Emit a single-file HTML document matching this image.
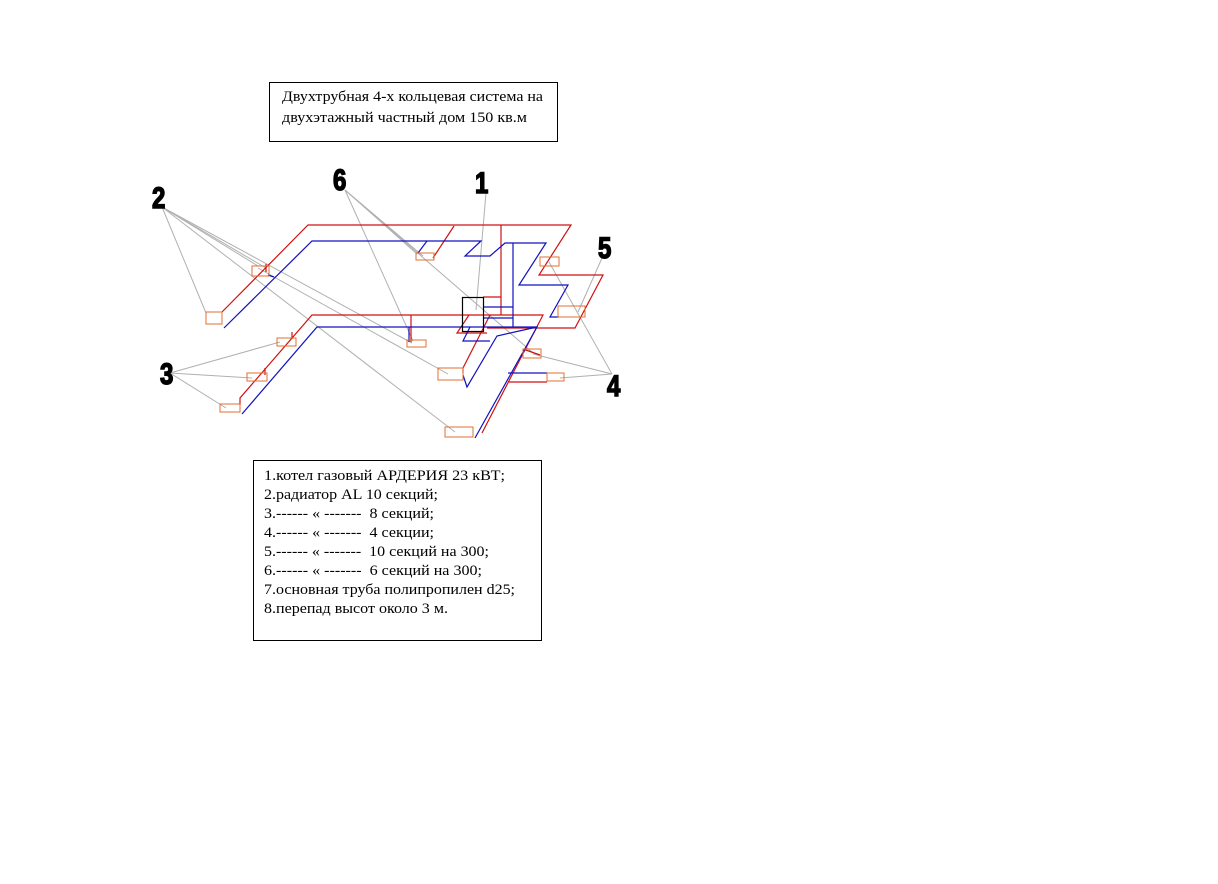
<!DOCTYPE html>
<html><head><meta charset="utf-8"><style>
html,body{margin:0;padding:0;background:#fff;width:1218px;height:884px;overflow:hidden}
.t{font-family:"Liberation Serif","DejaVu Serif",serif;font-size:15px;fill:#000}
.n{font-family:"Liberation Sans",sans-serif;font-weight:bold;font-size:30px;fill:#000;stroke:#000;stroke-width:1.5}
</style></head><body>
<svg width="1218" height="884" xmlns="http://www.w3.org/2000/svg">
<rect x="269.5" y="82.5" width="288" height="59" fill="#fff" stroke="#000"/>
<text class="t" x="282" y="101" textLength="261" lengthAdjust="spacingAndGlyphs">Двухтрубная 4-х кольцевая система на</text>
<text class="t" x="282" y="122" textLength="245" lengthAdjust="spacingAndGlyphs">двухэтажный частный дом 150 кв.м</text>

<rect x="253.5" y="460.5" width="288" height="180" fill="#fff" stroke="#000"/>
<g class="t">
<text x="264" y="480" textLength="241" lengthAdjust="spacingAndGlyphs">1.котел газовый АРДЕРИЯ 23 кВТ;</text>
<text x="264" y="499" textLength="174" lengthAdjust="spacingAndGlyphs">2.радиатор AL 10 секций;</text>
<text x="264" y="518" textLength="170" lengthAdjust="spacingAndGlyphs" xml:space="preserve">3.------ « -------  8 секций;</text>
<text x="264" y="537" textLength="170" lengthAdjust="spacingAndGlyphs" xml:space="preserve">4.------ « -------  4 секции;</text>
<text x="264" y="556" textLength="225" lengthAdjust="spacingAndGlyphs" xml:space="preserve">5.------ « -------  10 секций на 300;</text>
<text x="264" y="575" textLength="218" lengthAdjust="spacingAndGlyphs" xml:space="preserve">6.------ « -------  6 секций на 300;</text>
<text x="264" y="594" textLength="251" lengthAdjust="spacingAndGlyphs">7.основная труба полипропилен d25;</text>
<text x="264" y="613" textLength="184" lengthAdjust="spacingAndGlyphs">8.перепад высот около 3 м.</text>
</g>

<g stroke="#b0b0b0" stroke-width="1" fill="none">
<line x1="162" y1="207" x2="206" y2="313"/>
<line x1="162" y1="207" x2="258" y2="266"/>
<line x1="162" y1="207" x2="266" y2="268"/>
<line x1="162" y1="207" x2="412" y2="343"/>
<line x1="162" y1="207" x2="455" y2="432"/>
<line x1="345" y1="190" x2="417" y2="254"/>
<line x1="345" y1="190" x2="423" y2="256"/>
<line x1="345" y1="190" x2="413" y2="341"/>
<line x1="345" y1="190" x2="532" y2="352"/>
<line x1="170" y1="373" x2="280" y2="342"/>
<line x1="170" y1="373" x2="252" y2="378"/>
<line x1="170" y1="373" x2="226" y2="408"/>
<line x1="486" y1="193" x2="476" y2="310"/>
<line x1="602" y1="258" x2="578" y2="312"/>
<line x1="612" y1="374" x2="549" y2="262"/>
<line x1="612" y1="374" x2="533" y2="354"/>
<line x1="612" y1="374" x2="560" y2="378"/>
<line x1="258" y1="268" x2="448" y2="374"/>
</g>

<g stroke="#d01010" stroke-width="1.2" fill="none">
<polyline points="222,312 308,225 571,225 539,275 603,275 575,328 487,328"/>
<polyline points="454,226 433,258"/>
<line x1="501" y1="225" x2="501" y2="315"/>
<line x1="483" y1="297" x2="501" y2="297"/>
<polyline points="240,405 240,398 312,315 543,315 482,433"/>
<polyline points="469,315 457,333 487,333"/>
<polyline points="490,315 463,368 463,373"/>
<line x1="411" y1="315" x2="411" y2="342"/>
<polyline points="508,382 547,382"/>
<polyline points="523,349 540,355"/>
<line x1="266" y1="264" x2="266" y2="272"/>
<line x1="292" y1="332" x2="292" y2="339"/>
<line x1="265" y1="368" x2="265" y2="375"/>
</g>

<g stroke="#1010c0" stroke-width="1.2" fill="none">
<polyline points="224,328 312,241 481,241 465,256 490,256 505,243 546,243 519,285 568,285 550,317 559,317"/>
<line x1="513" y1="243" x2="513" y2="327"/>
<line x1="483" y1="307" x2="513" y2="307"/>
<line x1="483" y1="318" x2="513" y2="318"/>
<polyline points="242,414 317,327 537,327 475,438"/>
<polyline points="537,327 497,336 467,387 463,375"/>
<polyline points="470,327 463,341 490,341"/>
<line x1="409" y1="327" x2="409" y2="342"/>
<line x1="508" y1="373" x2="547" y2="373"/>
<line x1="427" y1="241" x2="418" y2="253"/>
<line x1="268" y1="275" x2="274" y2="277"/>
</g>

<rect x="462.5" y="297.5" width="21" height="34" fill="none" stroke="#000" stroke-width="1.2"/>

<g stroke="#e07030" stroke-width="1" fill="none">
<rect x="206" y="312" width="16" height="12"/>
<rect x="252" y="266" width="17" height="10"/>
<rect x="277" y="338" width="19" height="8"/>
<rect x="247" y="373" width="20" height="8"/>
<rect x="220" y="404" width="20" height="8"/>
<rect x="416" y="253" width="18" height="7"/>
<rect x="407" y="340" width="19" height="7"/>
<rect x="438" y="368" width="25" height="12"/>
<rect x="445" y="427" width="28" height="10"/>
<rect x="540" y="257" width="19" height="9"/>
<rect x="558" y="306" width="27" height="11"/>
<rect x="523" y="349" width="18" height="9"/>
<rect x="547" y="373" width="17" height="8"/>
</g>

<g class="n">
<text transform="translate(152,208) scale(0.8,1)">2</text>
<text transform="translate(333,190) scale(0.8,1)">6</text>
<text transform="translate(475,193) scale(0.8,1)">1</text>
<text transform="translate(598,258) scale(0.8,1)">5</text>
<text transform="translate(160,384) scale(0.8,1)">3</text>
<text transform="translate(607,396) scale(0.8,1)">4</text>
</g>
</svg>
</body></html>
